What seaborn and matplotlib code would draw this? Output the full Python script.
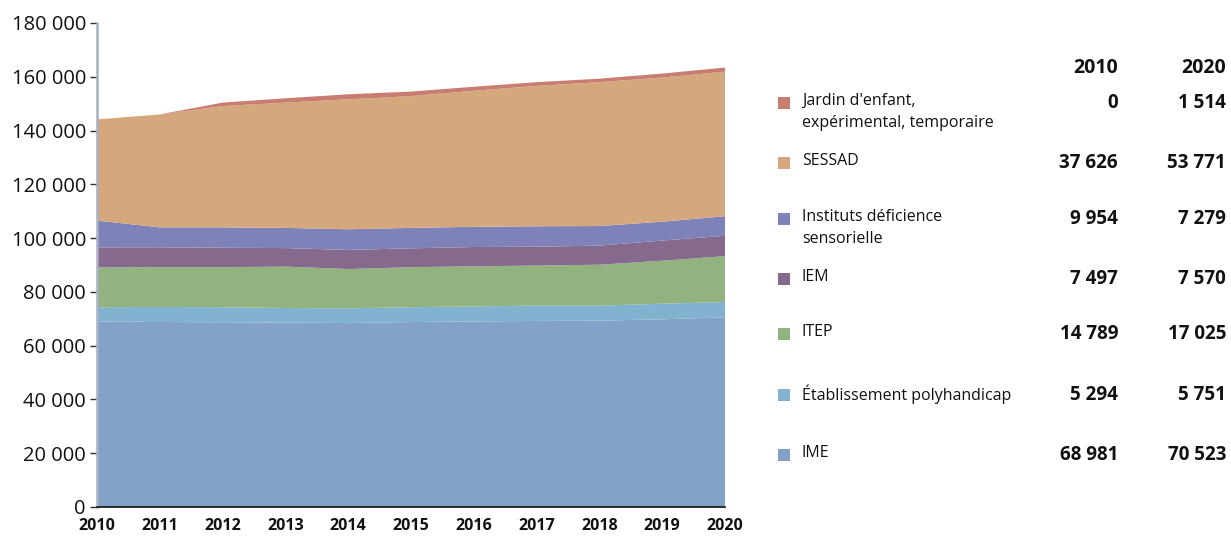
import matplotlib
matplotlib.use("Agg")
import matplotlib.pyplot as plt
from matplotlib.patches import Rectangle
from matplotlib.ticker import FuncFormatter
import seaborn as sns
import numpy as np

years = list(range(2010, 2021))

ime = [68981, 68800, 68700, 68600, 68400, 68800, 69000, 69200, 69300, 69800, 70523]
polyhandicap = [5294, 5600, 5600, 5400, 5500, 5500, 5600, 5700, 5600, 5800, 5751]
itep = [14789, 14800, 14900, 15400, 14600, 14900, 14900, 14900, 15200, 16000, 17025]
iem = [7497, 7400, 7200, 6900, 7100, 7000, 7200, 7000, 7100, 7500, 7570]
instituts = [9954, 7400, 7600, 7500, 7700, 7600, 7500, 7600, 7300, 7000, 7279]
sessad = [37626, 42000, 45100, 46600, 48300, 49000, 50600, 52200, 53500, 53600, 53771]
jardin = [0, 0, 1300, 1600, 1900, 1700, 1500, 1400, 1300, 1500, 1514]

series_bottom_up = [ime, polyhandicap, itep, iem, instituts, sessad, jardin]
labels_bottom_up = ["IME", "Établissement polyhandicap", "ITEP", "IEM",
                    "Instituts déficience\nsensorielle", "SESSAD",
                    "Jardin d'enfant,\nexpérimental, temporaire"]
colors_bottom_up = ["#84a2c8", "#81b2d0", "#92b37f", "#856a8e", "#7f82b8", "#d4a87c", "#c97d70"]

y_ticks = list(range(0, 180001, 20000))

sns.set_theme(style="white")
plt.rcParams["font.family"] = ["Open Sans", "DejaVu Sans"]

fig = plt.figure(figsize=(12.31, 5.40), dpi=100)
ax = fig.add_axes([97/1231, 1-507/540, (725-97)/1231, (507-23)/540])

ax.stackplot(years, *series_bottom_up, colors=colors_bottom_up, linewidth=0, edgecolor="none")
ax.set_xlim(2010, 2020)
ax.set_ylim(0, 180000)
ax.set_yticks(y_ticks)
ax.yaxis.set_major_formatter(FuncFormatter(lambda v, p: f"{int(v):,}".replace(",", " ")))
ax.set_xticks(years)
ax.set_xticklabels([str(y) for y in years], fontweight="bold", fontsize=11.5)
ax.tick_params(axis="y", which="major", direction="out", length=5, width=1, color="#333333",
               labelsize=14.5, pad=3, left=True, labelcolor="#111111")
ax.tick_params(axis="x", length=0, pad=8, labelcolor="#111111")
for s in ["top", "right"]:
    ax.spines[s].set_visible(False)
ax.spines["left"].set_color("#a8b0c6")
ax.spines["left"].set_linewidth(1.8)
ax.spines["bottom"].set_color("#111111")
ax.spines["bottom"].set_linewidth(1.2)
ax.grid(False)

# Custom legend with values
def fmt(v):
    return f"{int(v):,}".replace(",", " ")

H, W = 540, 1231
fig.text(1118/W, 1-68/H, "2010", ha="right", va="center", fontsize=14, fontweight="bold", color="#111111")
fig.text(1226/W, 1-68/H, "2020", ha="right", va="center", fontsize=14, fontweight="bold", color="#111111")

row_y = [455, 395, 334, 279, 219, 163, 103]
for s, lab, col, ry in zip(series_bottom_up, labels_bottom_up, colors_bottom_up, row_y):
    fig.patches.append(Rectangle((778/W, 1-(ry+6)/H), 12/W, 12/H, transform=fig.transFigure,
                                 facecolor=col, edgecolor="none"))
    fig.text(802/W, 1-(ry-10)/H, lab, ha="left", va="top", fontsize=11.5, color="#111111",
             linespacing=1.5)
    fig.text(1118/W, 1-ry/H, fmt(s[0]), ha="right", va="center", fontsize=13.5,
             fontweight="bold", color="#111111")
    fig.text(1226/W, 1-ry/H, fmt(s[-1]), ha="right", va="center", fontsize=13.5,
             fontweight="bold", color="#111111")

fig.savefig("out.png", dpi=100)
